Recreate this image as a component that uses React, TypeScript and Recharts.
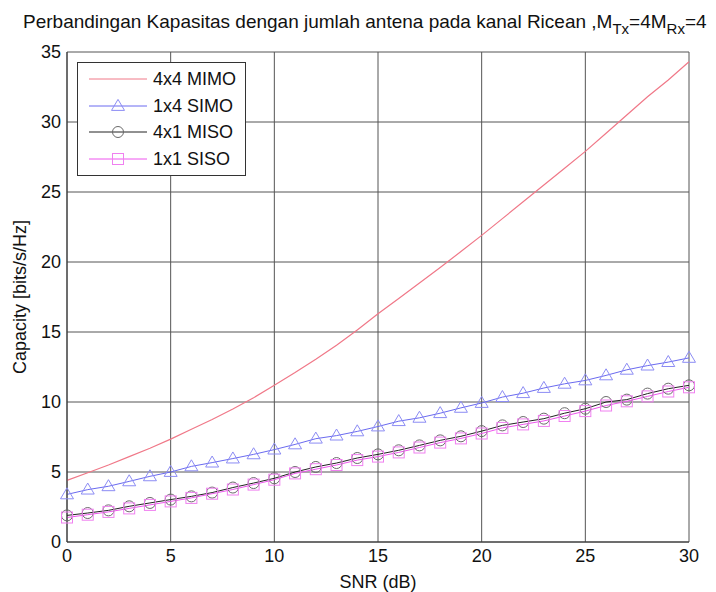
import React from 'react';
import { LineChart, Line, XAxis, YAxis, CartesianGrid } from 'recharts';

const snr = [0, 1, 2, 3, 4, 5, 6, 7, 8, 9, 10, 11, 12, 13, 14, 15, 16, 17, 18, 19, 20, 21, 22, 23, 24, 25, 26, 27, 28, 29, 30];
const mimo = [4.4, 4.95, 5.5, 6.1, 6.7, 7.35, 8.05, 8.75, 9.5, 10.3, 11.2, 12.1, 13.05, 14.05, 15.15, 16.3, 17.4, 18.5, 19.6, 20.75, 21.9, 23.1, 24.3, 25.5, 26.7, 27.9, 29.2, 30.5, 31.8, 33.0, 34.3];
const simo = [3.4, 3.74, 3.98, 4.33, 4.69, 5.0, 5.4, 5.67, 5.96, 6.26, 6.6, 6.97, 7.38, 7.6, 7.9, 8.25, 8.63, 8.87, 9.2, 9.58, 9.93, 10.35, 10.63, 11.0, 11.3, 11.54, 11.9, 12.3, 12.6, 12.85, 13.15];
const miso = [1.9, 2.07, 2.26, 2.55, 2.79, 3.03, 3.26, 3.53, 3.89, 4.21, 4.55, 5.0, 5.36, 5.64, 6.0, 6.26, 6.55, 6.9, 7.26, 7.55, 7.92, 8.33, 8.57, 8.81, 9.2, 9.52, 10.0, 10.17, 10.6, 10.95, 11.19];
const siso = [1.75, 1.95, 2.15, 2.4, 2.65, 2.9, 3.15, 3.45, 3.75, 4.1, 4.45, 4.9, 5.2, 5.5, 5.85, 6.1, 6.4, 6.75, 7.1, 7.4, 7.75, 8.15, 8.4, 8.65, 9.0, 9.35, 9.75, 10.05, 10.4, 10.75, 11.05];
const xTicks = [0, 5, 10, 15, 20, 25, 30];
const yTicks = [0, 5, 10, 15, 20, 25, 30, 35];
const seriesNames = ['4x4 MIMO', '1x4 SIMO', '4x1 MISO', '1x1 SISO'];

const data = snr.map((s, i) => ({ snr: s, mimo: mimo[i], simo: simo[i], miso: miso[i], siso: siso[i] }));

const FONT = '"Liberation Sans", Arial, sans-serif';
const C_MIMO = '#f07888';
const C_SIMO = '#6a6af0';
const C_SIMO_M = '#8c8cf4';
const C_MISO = '#222222';
const C_MISO_M = '#6a6a6a';
const C_SISO = '#ee55ee';
const C_SISO_M = '#f080f0';

const Tri = (props: any) => {
  const { cx, cy } = props;
  if (cx == null || cy == null) return null;
  const h = 11, w = 13;
  return <path d={`M${cx},${cy - h * 0.6} L${cx + w / 2},${cy + h * 0.4} L${cx - w / 2},${cy + h * 0.4} Z`} fill="none" stroke={C_SIMO_M} strokeWidth={1} />;
};
const Circ = (props: any) => {
  const { cx, cy } = props;
  if (cx == null || cy == null) return null;
  return <circle cx={cx} cy={cy} r={5.5} fill="none" stroke={C_MISO_M} strokeWidth={1} />;
};
const Sq = (props: any) => {
  const { cx, cy } = props;
  if (cx == null || cy == null) return null;
  return <rect x={cx - 5.5} y={cy - 5.5} width={11} height={11} fill="none" stroke={C_SISO_M} strokeWidth={1} />;
};

const LegendBox = () => {
  const rows = [
    { name: seriesNames[0], color: C_MIMO, marker: '' },
    { name: seriesNames[1], color: C_SIMO, marker: 'tri' },
    { name: seriesNames[2], color: C_MISO, marker: 'circ' },
    { name: seriesNames[3], color: C_SISO, marker: 'sq' },
  ];
  return (
    <div style={{ position: 'absolute', left: 77, top: 62, width: 169, height: 114, border: '1px solid #333', background: '#fff', boxSizing: 'border-box', fontFamily: FONT, fontSize: 18 }}>
      {rows.map((r, i) => (
        <div key={r.name} style={{ position: 'absolute', left: 0, top: 6 + i * 26.7, height: 20, width: 167 }}>
          <svg width={72} height={20} style={{ position: 'absolute', left: 10, top: 0 }}>
            <line x1={1} y1={10} x2={59} y2={10} stroke={r.color} strokeWidth={1} />
            {r.marker === 'tri' && <Tri cx={30} cy={10} />}
            {r.marker === 'circ' && <Circ cx={30} cy={10} />}
            {r.marker === 'sq' && <Sq cx={30} cy={10} />}
          </svg>
          <span style={{ position: 'absolute', left: 75, top: 0, lineHeight: '20px', color: '#111', whiteSpace: 'nowrap' }}>{r.name}</span>
        </div>
      ))}
    </div>
  );
};

export default function App() {
  return (
    <div style={{ position: 'absolute', left: 0, top: 0, width: 716, height: 592, background: '#fff', fontFamily: FONT }}>
      <LineChart width={716} height={592} data={data} margin={{ top: 52, right: 27, bottom: 20, left: 0 }} style={{ position: 'absolute', left: 0, top: 0 }}>
        <CartesianGrid stroke="#555" strokeWidth={1} horizontal vertical />
        <XAxis dataKey="snr" type="number" domain={[0, 30]} ticks={xTicks} height={30} tickLine={false} axisLine={{ stroke: '#333' }} tick={{ fill: '#111', fontSize: 18, fontFamily: FONT }} tickMargin={1}
          label={{ value: 'SNR (dB)', position: 'insideBottom', offset: -16, fill: '#111', fontSize: 18, fontFamily: FONT }} />
        <YAxis type="number" domain={[0, 35]} ticks={yTicks} width={67} tickLine={false} axisLine={{ stroke: '#333' }} tick={{ fill: '#111', fontSize: 18, fontFamily: FONT }} tickMargin={0}
          label={{ value: 'Capacity [bits/s/Hz]', angle: -90, position: 'insideLeft', offset: 20, style: { textAnchor: 'middle' }, fill: '#111', fontSize: 18, fontFamily: FONT }} />
        <XAxis xAxisId="top" orientation="top" dataKey="snr" type="number" domain={[0, 30]} ticks={xTicks} tick={false} tickLine={false} axisLine={{ stroke: '#333' }} height={0} />
        <YAxis yAxisId="right" orientation="right" type="number" domain={[0, 35]} ticks={yTicks} tick={false} tickLine={false} axisLine={{ stroke: '#333' }} width={0} />
        <Line dataKey="mimo" name={seriesNames[0]} stroke={C_MIMO} strokeWidth={1.2} dot={false} isAnimationActive={false} />
        <Line dataKey="simo" name={seriesNames[1]} stroke={C_SIMO} strokeWidth={1} dot={<Tri />} isAnimationActive={false} />
        <Line dataKey="miso" name={seriesNames[2]} stroke={C_MISO} strokeWidth={1} dot={<Circ />} isAnimationActive={false} />
        <Line dataKey="siso" name={seriesNames[3]} stroke={C_SISO} strokeWidth={1} dot={<Sq />} isAnimationActive={false} />
      </LineChart>
      <div style={{ position: 'absolute', left: 23, top: 11, fontSize: 19, color: '#111', whiteSpace: 'nowrap', lineHeight: '22px' }}>
        Perbandingan Kapasitas dengan jumlah antena pada kanal Ricean ,M<sub style={{ fontSize: 15, verticalAlign: -6, lineHeight: 0 }}>Tx</sub>=4M<sub style={{ fontSize: 15, verticalAlign: -6, lineHeight: 0 }}>Rx</sub>=4
      </div>
      <LegendBox />
    </div>
  );
}
